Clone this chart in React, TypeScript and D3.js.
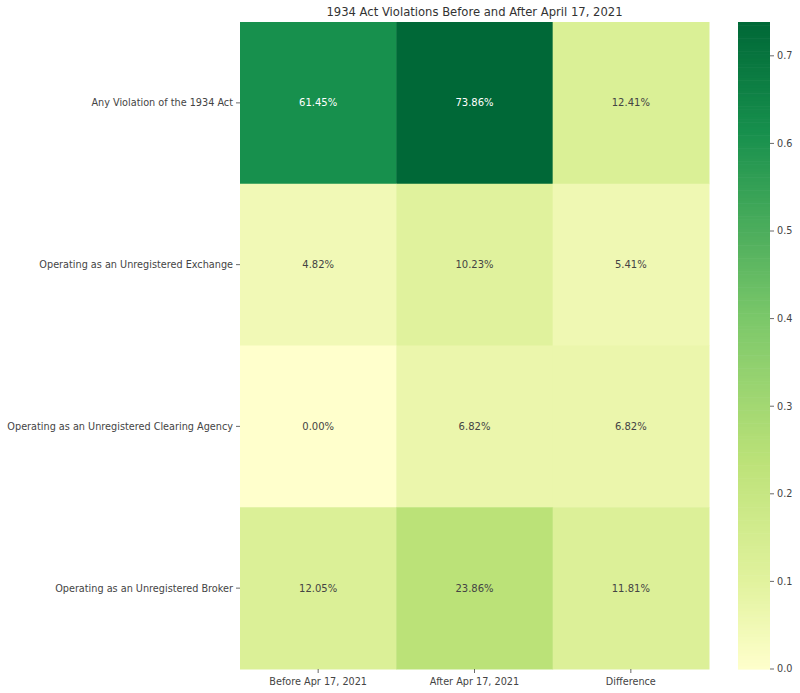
import React, { useEffect, useRef } from 'react';
import * as d3 from 'd3';

const rows = [
  'Any Violation of the 1934 Act',
  'Operating as an Unregistered Exchange',
  'Operating as an Unregistered Clearing Agency',
  'Operating as an Unregistered Broker',
];
const columns = ['Before Apr 17, 2021', 'After Apr 17, 2021', 'Difference'];
const before = [0.6145, 0.0482, 0.0, 0.1205];
const after = [0.7386, 0.1023, 0.0682, 0.2386];
const difference = [0.1241, 0.0541, 0.0682, 0.1181];
const cbarTicks = [0, 0.1, 0.2, 0.3, 0.4, 0.5, 0.6, 0.7];
// YlGn-like ramp, stops as fractions of the max value
const paletteStops = [0, 0.14, 0.32, 0.54, 0.83, 1];
const palette = ['#ffffcc', '#e0f29c', '#bce278', '#7cc86a', '#17904d', '#006837'];

const W = 800;
const H = 693;

const App = () => {
  const ref = useRef<SVGSVGElement | null>(null);

  useEffect(() => {
    const svg = d3.select(ref.current);
    svg.selectAll('*').remove();

    const left = 240, right = 709, top = 22, bottom = 669;
    const vmax = d3.max([...before, ...after, ...difference]) as number;

    const x = d3.scaleBand().domain(columns).range([left, right]);
    const y = d3.scaleBand().domain(rows).range([top, bottom]);
    const color = d3.scaleLinear<string>()
      .domain(paletteStops.map(s => s * vmax))
      .range(palette)
      .interpolate(d3.interpolateRgb)
      .clamp(true);

    const cells: { row: string; col: string; v: number }[] = [];
    rows.forEach((r, i) => {
      cells.push({ row: r, col: columns[0], v: before[i] });
      cells.push({ row: r, col: columns[1], v: after[i] });
      cells.push({ row: r, col: columns[2], v: difference[i] });
    });

    const g = svg.append('g').style('font-family', '"DejaVu Sans", sans-serif');

    g.selectAll('rect.cell')
      .data(cells)
      .enter()
      .append('rect')
      .attr('class', 'cell')
      .attr('x', d => x(d.col) as number)
      .attr('y', d => y(d.row) as number)
      .attr('width', x.bandwidth() + 0.5)
      .attr('height', y.bandwidth() + 0.5)
      .attr('fill', d => color(d.v));

    // annotation text, white on dark cells
    g.selectAll('text.annot')
      .data(cells)
      .enter()
      .append('text')
      .attr('x', d => (x(d.col) as number) + x.bandwidth() / 2)
      .attr('y', d => (y(d.row) as number) + y.bandwidth() / 2)
      .attr('dy', '0.35em')
      .attr('text-anchor', 'middle')
      .style('font-size', '10px')
      .style('fill', d => {
        const c = d3.rgb(color(d.v));
        const lum = 0.2126 * c.r + 0.7152 * c.g + 0.0722 * c.b;
        return lum < 140 ? '#ffffff' : '#444444';
      })
      .text(d => (d.v * 100).toFixed(2) + '%');

    // y ticks
    const yt = g.selectAll('g.ytick').data(rows).enter().append('g')
      .attr('transform', d => `translate(0, ${(y(d) as number) + y.bandwidth() / 2})`);
    yt.append('line').attr('x1', left - 4).attr('x2', left).attr('stroke', '#444').attr('stroke-width', 0.8);
    yt.append('text')
      .attr('x', left - 7)
      .attr('dy', '0.35em')
      .attr('text-anchor', 'end')
      .style('font-size', '9.7px')
      .style('fill', '#444')
      .text(d => d);

    // x ticks
    const xt = g.selectAll('g.xtick').data(columns).enter().append('g')
      .attr('transform', d => `translate(${(x(d) as number) + x.bandwidth() / 2}, ${bottom})`);
    xt.append('line').attr('y1', 0).attr('y2', 4).attr('stroke', '#444').attr('stroke-width', 0.8);
    xt.append('text')
      .attr('y', 16)
      .attr('text-anchor', 'middle')
      .style('font-size', '9.7px')
      .style('fill', '#444')
      .text(d => d);

    // title
    g.append('text')
      .attr('x', (left + right) / 2)
      .attr('y', 16)
      .attr('text-anchor', 'middle')
      .style('font-size', '11.6px')
      .style('fill', '#333')
      .text('1934 Act Violations Before and After April 17, 2021');

    // colorbar
    const cx0 = 738, cx1 = 770;
    const cy = d3.scaleLinear().domain([0, vmax]).range([bottom, top]);
    const steps = d3.range(0, 200);
    g.selectAll('rect.cbar')
      .data(steps)
      .enter()
      .append('rect')
      .attr('x', cx0)
      .attr('width', cx1 - cx0)
      .attr('y', d => cy((vmax * (d + 1)) / 200))
      .attr('height', (bottom - top) / 200 + 0.6)
      .attr('fill', d => color((vmax * (d + 0.5)) / 200));

    const ct = g.selectAll('g.ctick').data(cbarTicks).enter().append('g')
      .attr('transform', d => `translate(${cx1}, ${cy(d)})`);
    ct.append('line').attr('x1', 0).attr('x2', 4).attr('stroke', '#444').attr('stroke-width', 0.8);
    ct.append('text')
      .attr('x', 7)
      .attr('dy', '0.35em')
      .style('font-size', '9.7px')
      .style('fill', '#444')
      .text(d => d.toFixed(1));
  }, []);

  return (
    <svg ref={ref} width={W} height={H} style={{ position: 'absolute', left: 0, top: 0, background: '#fff' }} />
  );
};

export default App;
